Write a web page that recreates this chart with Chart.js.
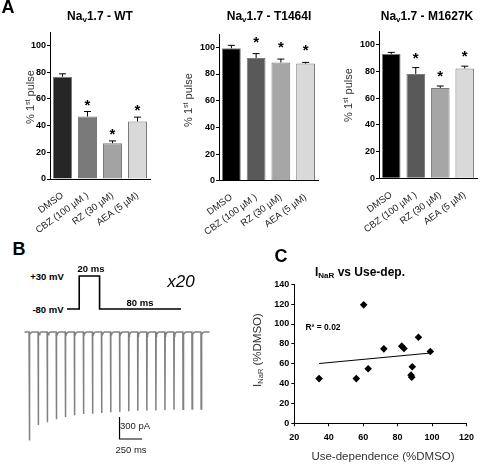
<!DOCTYPE html>
<html>
<head>
<meta charset="utf-8">
<script src="https://cdn.jsdelivr.net/npm/chart.js@4.4.1/dist/chart.umd.min.js"></script>
<style>
body { margin: 0; width: 480px; height: 464px; background: #fff; position: relative; overflow: hidden;
       font-family: "Liberation Sans", Arial, sans-serif; color: #000; }
canvas { position: absolute; }
.t { position: absolute; white-space: nowrap; transform: translate(-50%, -50%); }
.rot { transform: translate(-50%, -50%) rotate(-90deg); }
.big { font-size: 18px; font-weight: bold; }
.ttl { font-size: 12px; font-weight: bold; }
.ttl sub { font-size: 8px; vertical-align: -2px; }
.yl { font-size: 11px; color: #333; }
.yl sup { font-size: 7px; vertical-align: 4px; }
.yl sub { font-size: 7.5px; vertical-align: -2px; }
.pr { font-size: 9.5px; font-weight: bold; }
.sb { font-size: 9.5px; color: #222; }
</style>
</head>
<body>
<canvas id="wt" width="160" height="235" style="left:0;top:0"></canvas>
<canvas id="t1464" width="160" height="235" style="left:160px;top:0"></canvas>
<canvas id="m1627" width="160" height="235" style="left:320px;top:0"></canvas>
<canvas id="proto" width="114" height="45" style="left:67px;top:270px"></canvas>
<canvas id="trace" width="190" height="125" style="left:20px;top:325px"></canvas>
<canvas id="scat" width="240" height="209" style="left:240px;top:255px"></canvas>

<div class="t big" style="left:8px;top:7px">A</div>
<div class="t ttl" style="left:100px;top:16px">Na<sub>v</sub>1.7 - WT</div>
<div class="t ttl" style="left:269px;top:16px">Na<sub>v</sub>1.7 - T1464I</div>
<div class="t ttl" style="left:427px;top:16px">Na<sub>v</sub>1.7 - M1627K</div>
<div class="t yl rot" style="left:30px;top:97px">% 1<sup>st</sup> pulse</div>
<div class="t yl rot" style="left:188px;top:100px">% 1<sup>st</sup> pulse</div>
<div class="t yl rot" style="left:348px;top:95px">% 1<sup>st</sup> pulse</div>

<div class="t big" style="left:19px;top:249px">B</div>
<div class="t pr" style="left:47px;top:276px">+30 mV</div>
<div class="t pr" style="left:48px;top:309px">-80 mV</div>
<div class="t pr" style="left:91px;top:268px">20 ms</div>
<div class="t pr" style="left:140px;top:302px">80 ms</div>
<div class="t" style="left:181px;top:282px;font-size:17px;font-style:italic">x20</div>
<div class="t sb" style="left:135px;top:425px">300 pA</div>
<div class="t sb" style="left:131px;top:449px">250 ms</div>

<div class="t big" style="left:281px;top:256px">C</div>
<div class="t ttl" style="left:360px;top:272px">I<sub>NaR</sub> vs Use-dep.</div>
<div class="t yl rot" style="left:258px;top:350px;font-size:11.5px">I<sub>NaR</sub> (%DMSO)</div>
<div class="t yl" style="left:383px;top:456px;font-size:11.5px">Use-dependence (%DMSO)</div>
<div class="t" id="r2" style="left:323px;top:327px;font-size:8.5px;font-weight:bold"></div>

<script>
// ---------------- Panel A data ----------------
const drugs = ["DMSO", "CBZ (100 µM )", "RZ (30 µM)", "AEA (5 µM)"];
const wtMean = [76.5, 46.8, 26.8, 43.1];
const wtErr = [2.2, 3.7, 1.7, 3.2];
const t1464Mean = [99.3, 92.0, 88.6, 87.8];
const t1464Err = [2.2, 3.3, 2.6, 0.9];
const m1627Mean = [93.2, 78.3, 67.8, 82.4];
const m1627Err = [1.2, 4.7, 1.4, 1.7];
const significant = [false, true, true, true];

// ---------------- Panel B data ----------------
const protoTime = [-12, 0, 0, 20, 20, 100];      // ms
const protoVolt = [-80, -80, 30, 30, -80, -80];  // mV
const pulseTime = [0, 100, 200, 300, 400, 500, 600, 700, 800, 900,
                   1000, 1100, 1200, 1300, 1400, 1500, 1600, 1700, 1800, 1900]; // ms
const peakCurrent = [1480, 1270, 1230, 1190, 1160, 1135, 1120, 1115, 1105, 1095,
                     1090, 1080, 1075, 1070, 1070, 1065, 1060, 1055, 1050, 1050]; // pA
const tailTime = [5, 10, 20, 35];        // ms after pulse onset
const tailCurrent = [-60, -35, -12, 0];  // pA
const barTime = [1000, 1000, 1250];
const barCurrent = [-1160, -1460, -1460];

// ---------------- Panel C data ----------------
const useDep = [34.4, 56.0, 60.3, 62.9, 72.0, 82.4, 83.7, 87.8, 88.2, 88.5, 92.1, 99.0];
const iNaR = [45.0, 45.0, 119.3, 55.0, 75.0, 77.7, 75.3, 48.5, 46.5, 57.0, 86.7, 72.3];

const FONT = '"Liberation Sans", Arial, sans-serif';
Chart.defaults.font.family = FONT;
Chart.defaults.animation = false;

// error bars + significance stars
const errorBars = {
  id: "errorBars",
  afterDatasetsDraw(chart, args, opts) {
    const ctx = chart.ctx;
    const meta = chart.getDatasetMeta(0);
    const y = chart.scales.y;
    ctx.save();
    meta.data.forEach((bar, i) => {
      const top = y.getPixelForValue(chart.data.datasets[0].data[i] + opts.err[i]);
      ctx.strokeStyle = "#000";
      ctx.lineWidth = 1;
      ctx.beginPath();
      ctx.moveTo(bar.x, bar.y);
      ctx.lineTo(bar.x, top);
      ctx.moveTo(bar.x - 3.5, top);
      ctx.lineTo(bar.x + 3.5, top);
      ctx.stroke();
      if (opts.stars[i]) {
        ctx.fillStyle = "#000";
        ctx.font = "bold 15px " + FONT;
        ctx.textAlign = "center";
        ctx.textBaseline = "alphabetic";
        ctx.fillText("*", bar.x, top - opts.gap + 8);
      }
    });
    ctx.restore();
  }
};

function barPanel(id, means, errs, colors, yAxisW, pad, xAxisH, gap) {
  new Chart(document.getElementById(id), {
    type: "bar",
    data: {
      labels: drugs,
      datasets: [{
        data: means,
        backgroundColor: colors,
        borderColor: "#7a7a7a",
        borderWidth: 1,
        barPercentage: 0.76,
        categoryPercentage: 1.0
      }]
    },
    options: {
      responsive: false,
      layout: { padding: pad },
      plugins: {
        legend: { display: false },
        tooltip: { enabled: false },
        errorBars: { err: errs, stars: significant, gap: gap }
      },
      scales: {
        x: {
          grid: { display: false },
          border: { display: true, color: "#000", width: 1 },
          ticks: { minRotation: 36, maxRotation: 36, autoSkip: false, color: "#222",
                   font: { size: 9.5 }, padding: 3 },
          afterFit: s => { s.height = xAxisH; }
        },
        y: {
          min: 0, max: 110,
          ticks: { stepSize: 10, color: "#000", font: { size: 9, weight: "bold" }, padding: 1,
                   callback: v => (v % 20 === 0 && v <= 100) ? v : "" },
          grid: { drawOnChartArea: false, tickLength: 3, color: "#000" },
          border: { display: true, color: "#000", width: 1 },
          afterFit: s => { s.width = yAxisW; }
        }
      }
    },
    plugins: [errorBars]
  });
}

barPanel("wt", wtMean, wtErr, ["#262626", "#7a7a7a", "#a3a3a3", "#d9d9d9"],
         50, { top: 32, right: 10 }, 56, 10);
barPanel("t1464", t1464Mean, t1464Err, ["#000000", "#595959", "#a6a6a6", "#d9d9d9"],
         59, { top: 34, right: 2 }, 54.3, 15);
barPanel("m1627", m1627Mean, m1627Err, ["#000000", "#595959", "#a6a6a6", "#d9d9d9"],
         59, { top: 31.6, right: 3 }, 56.7, 13);

// ---------------- Panel B: protocol ----------------
const hidden = { display: false };
new Chart(document.getElementById("proto"), {
  type: "scatter",
  data: {
    datasets: [{
      data: protoTime.map((t, i) => ({ x: t, y: protoVolt[i] })),
      showLine: true, pointRadius: 0, borderColor: "#000", borderWidth: 1.6, clip: false
    }]
  },
  options: {
    responsive: false,
    layout: { padding: { top: 6, bottom: 6 } },
    plugins: { legend: hidden, tooltip: { enabled: false } },
    scales: {
      x: { type: "linear", min: -12, max: 100, display: false },
      y: { min: -80, max: 30, display: false }
    }
  }
});

// ---------------- Panel B: current trace ----------------
const trace = [{ x: -50, y: 0 }];
pulseTime.forEach((t, i) => {
  trace.push({ x: t, y: 0 });
  trace.push({ x: t + 2, y: -peakCurrent[i] });
  tailTime.forEach((dt, k) => trace.push({ x: t + dt, y: tailCurrent[k] }));
});
trace.push({ x: 1995, y: 0 });

new Chart(document.getElementById("trace"), {
  type: "scatter",
  data: {
    datasets: [
      { data: trace, showLine: true, pointRadius: 0, borderColor: "#808080", borderWidth: 1.5, clip: false },
      { data: barTime.map((t, i) => ({ x: t, y: barCurrent[i] })), showLine: true, pointRadius: 0,
        borderColor: "#000", borderWidth: 1.2, clip: false }
    ]
  },
  options: {
    responsive: false,
    plugins: { legend: hidden, tooltip: { enabled: false } },
    scales: {
      x: { type: "linear", min: -100, max: 2000, display: false },
      y: { min: -1610, max: 95, display: false }
    }
  }
});

// ---------------- Panel C: scatter + linear fit ----------------
const n = useDep.length;
const mx = useDep.reduce((a, b) => a + b, 0) / n;
const my = iNaR.reduce((a, b) => a + b, 0) / n;
let sxy = 0, sxx = 0, syy = 0;
for (let i = 0; i < n; i++) {
  sxy += (useDep[i] - mx) * (iNaR[i] - my);
  sxx += (useDep[i] - mx) ** 2;
  syy += (iNaR[i] - my) ** 2;
}
const slope = sxy / sxx;
const icpt = my - slope * mx;
const r2 = (sxy * sxy) / (sxx * syy);
document.getElementById("r2").textContent = "R² = " + r2.toFixed(2);
const xLo = Math.min(...useDep), xHi = Math.max(...useDep);

new Chart(document.getElementById("scat"), {
  type: "scatter",
  data: {
    datasets: [
      { data: useDep.map((x, i) => ({ x: x, y: iNaR[i] })), pointStyle: "rectRot", pointRadius: 3.8,
        backgroundColor: "#000", borderColor: "#000", borderWidth: 0 },
      { data: [{ x: xLo, y: icpt + slope * xLo }, { x: xHi, y: icpt + slope * xHi }],
        showLine: true, pointRadius: 0, borderColor: "#000", borderWidth: 1 }
    ]
  },
  options: {
    responsive: false,
    layout: { padding: { top: 29.3, right: 6 } },
    plugins: { legend: hidden, tooltip: { enabled: false } },
    scales: {
      x: {
        min: 20, max: 120,
        ticks: { stepSize: 20, color: "#000", font: { size: 9, weight: "bold" }, padding: 6 },
        grid: { drawOnChartArea: false, tickLength: 3, color: "#000" },
        border: { display: true, color: "#000", width: 1 },
        afterFit: s => { s.height = 40.7; }
      },
      y: {
        min: 0, max: 140,
        ticks: { stepSize: 20, color: "#000", font: { size: 9, weight: "bold" }, padding: 2 },
        grid: { drawOnChartArea: false, tickLength: 3, color: "#000" },
        border: { display: true, color: "#000", width: 1 },
        afterFit: s => { s.width = 54.3; }
      }
    }
  }
});
</script>
</body>
</html>
